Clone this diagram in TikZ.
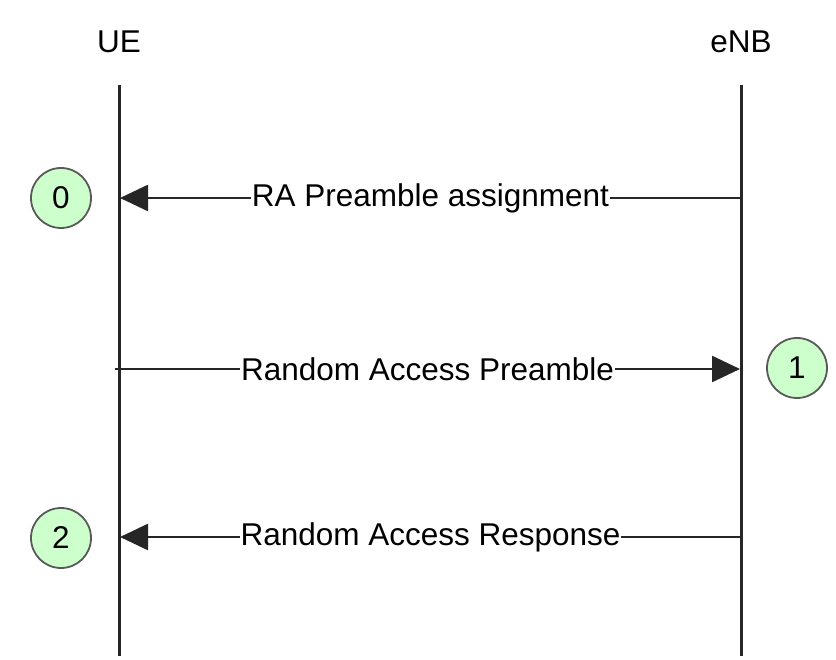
\documentclass[tikz,border=0pt]{standalone}
\usepackage{fontspec}
\setmainfont{Liberation Sans}
\usetikzlibrary{arrows.meta}
\begin{document}
\begin{tikzpicture}[x=1pt,y=-1pt,
  life/.style={line width=3pt,draw=black!85},
  msg/.style={line width=2.5pt,draw=black!85,-{Triangle[length=28pt,width=26pt]}},
  lbl/.style={fill=white,inner sep=1pt,font=\fontsize{31.5}{36}\selectfont}]
\useasboundingbox (0,0) rectangle (836,660);
\node[font=\fontsize{31.5}{36}\selectfont] (ue) at (119,42) {UE};
\node[font=\fontsize{31.5}{36}\selectfont] (enb) at (741,42) {eNB};
\coordinate (uetop) at (119,85);
\coordinate (uebot) at (119,656);
\coordinate (enbtop) at (741,85);
\coordinate (enbbot) at (741,656);
\draw[life] (uetop) -- (uebot);
\draw[life] (enbtop) -- (enbbot);
\tikzset{circ/.style={circle,draw=black!65,line width=1.8pt,fill={rgb,255:red,204;green,255;blue,204},minimum size=60pt,inner sep=0pt,font=\fontsize{31.5}{36}\selectfont}}
\node[circ] (c0) at (61,198) {0};
\node[circ] (c1) at (797,368) {1};
\node[circ] (c2) at (61,538) {2};
\coordinate (a1s) at (741,198);
\coordinate (a1e) at (120,198);
\coordinate (a2s) at (115,369);
\coordinate (a2e) at (740,369);
\coordinate (a3s) at (741,537);
\coordinate (a3e) at (120,537);
\draw[msg] (a1s) -- node[lbl] (m1) {RA Preamble assignment} (a1e);
\draw[msg] (a2s) -- node[lbl] (m2) {Random Access Preamble} (a2e);
\draw[msg] (a3s) -- node[lbl] (m3) {Random Access Response} (a3e);
\end{tikzpicture}
\end{document}
